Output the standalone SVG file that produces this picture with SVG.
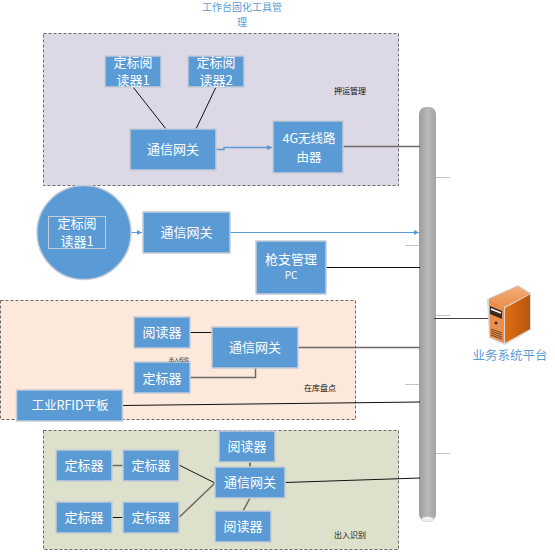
<svg xmlns="http://www.w3.org/2000/svg" width="555" height="552" viewBox="0 0 555 552">
<style>
text{font-family:"Noto Sans CJK SC","Liberation Sans",sans-serif;text-anchor:middle}
.n{fill:#5B9BD5;stroke:#C3CCD8;stroke-width:1.5}
.t{fill:#fff;font-size:13px}
.g{stroke:#6b6b6b;stroke-width:1;stroke-dasharray:3 2}
.s{font-size:8px;fill:#111}
.c{fill:none;stroke:#111;stroke-width:1}
.h{fill:none;stroke:#6f6a66;stroke-width:1.5}
.b{fill:none;stroke:#5B9BD5;stroke-width:1;marker-end:url(#a)}
.k{stroke:#c4c4c4;stroke-width:1;fill:none}
</style>
<defs>
<marker id="a" markerWidth="6" markerHeight="6" refX="5" refY="2.5" orient="auto" markerUnits="userSpaceOnUse"><path d="M0 0L5 2.5L0 5Z" fill="#5B9BD5"/></marker>
<linearGradient id="p" x1="0" x2="1" y1="0" y2="0"><stop offset="0" stop-color="#9c9c9c"/><stop offset=".5" stop-color="#b9b9b9"/><stop offset="1" stop-color="#a4a4a4"/></linearGradient>
<linearGradient id="o" x1="0" x2="1" y1="0" y2="0"><stop offset="0" stop-color="#DF6E12"/><stop offset="1" stop-color="#B9560E"/></linearGradient>
<linearGradient id="q" x1="0" x2="0" y1="0" y2="1"><stop offset="0" stop-color="#F1AE7C"/><stop offset="1" stop-color="#EC8E4C"/></linearGradient>
</defs>

<g id="title"><text font-size="10" fill="#5B9BD5"><tspan x="242" y="11">工作台固化工具管</tspan><tspan x="242" y="26">理</tspan></text></g>
<g id="zone-escort"><rect class="g" x="43.500" y="33.500" width="355" height="152" fill="#DDD8E5"/><text class="s" x="350" y="94">押运管理</text></g>
<g id="zone-stock"><rect class="g" x="0.500" y="300.500" width="355" height="119" fill="#FCE9DB"/><text class="s" x="320" y="391">在库盘点</text></g>
<g id="zone-gate"><rect class="g" x="43.500" y="430.500" width="355" height="119" fill="#DDE1CC"/><text class="s" x="350" y="538">出入识别</text></g>

<g id="bus">
<rect x="419" y="107" width="17" height="414" rx="7" fill="url(#p)"/>
<ellipse cx="427.500" cy="519" rx="6" ry="2.500" fill="#f2f2f2" stroke="#b0b0b0" stroke-width=".5"/>
</g>

<g id="connectors">
<path class="c" d="M133 87L166 129"/>
<path class="c" d="M216 87L196 129"/>
<path class="b" d="M216 149.500H224V147.500H272" style="stroke-width:1.500"/>
<path class="h" d="M343 146.500H420"/>
<path class="b" d="M131 232.500H142"/>
<path class="b" d="M230 232.500H419"/>
<path class="c" d="M326 267.500H420"/>
<path class="c" d="M190 332.500H212"/>
<path class="h" d="M190 377.500H255.500V368"/>
<path class="h" d="M298 347.500H420"/>
<path class="c" d="M122 405.500L420 402"/>
<path class="h" d="M112 465.500H123"/>
<path class="c" d="M112 517.500H123"/>
<path class="c" d="M179 465L215 483"/>
<path class="h" d="M179 517.500L215 483"/>
<path class="c" d="M250 467V462"/>
<path class="h" d="M250 498L243 511"/>
<path class="c" d="M285 482.500L420 478"/>
<path class="c" d="M434 318.500H488" style="stroke:#444"/>
<path class="k" d="M436 177.500H450M405 245.500H419M436 315.500H450M405 384.500H419M436 453.500H450"/>
</g>

<g id="reader-a"><rect class="n" x="105" y="56" width="56" height="31"/><text class="t"><tspan x="133" y="67">定标阅</tspan><tspan x="133" y="85">读器1</tspan></text></g>
<g id="reader-b"><rect class="n" x="188" y="56" width="56" height="31"/><text class="t"><tspan x="216" y="67">定标阅</tspan><tspan x="216" y="85">读器2</tspan></text></g>
<g id="gateway-a"><rect class="n" x="130" y="129" width="86" height="41"/><text class="t" x="173" y="154">通信网关</text></g>
<g id="router"><rect class="n" x="273" y="121" width="70" height="52"/><text class="t" style="font-size:12.500px"><tspan x="309" y="143">4G无线路</tspan><tspan x="309" y="161.500">由器</tspan></text></g>

<g id="circle-reader"><circle class="n" cx="84" cy="232.500" r="47"/><rect x="48.500" y="216.500" width="57" height="32" fill="none" stroke="#C3CCD8"/><text class="t"><tspan x="77" y="228">定标阅</tspan><tspan x="77" y="246">读器1</tspan></text></g>
<g id="gateway-b"><rect class="n" x="143" y="212" width="87" height="41"/><text class="t" x="186.500" y="237">通信网关</text></g>
<g id="pc"><rect class="n" x="256" y="241" width="70" height="53"/><text class="t"><tspan x="291" y="264">枪支管理</tspan><tspan x="291" y="279" style="font-size:10px">PC</tspan></text></g>

<g id="reader-c"><rect class="n" x="134" y="317" width="56" height="31"/><text class="t" x="162" y="337">阅读器</text></g>
<g id="locator-c"><rect class="n" x="134" y="362" width="56" height="31"/><text class="t" x="162" y="383">定标器</text></g>
<text x="179" y="361" font-size="5" fill="#222">出入校验</text>
<g id="gateway-c"><rect class="n" x="212" y="327" width="86" height="41"/><text class="t" x="255" y="352">通信网关</text></g>
<g id="tablet"><rect class="n" x="16.500" y="390" width="106" height="31"/><text class="t" x="70" y="410" style="font-size:12.500px">工业RFID平板</text></g>

<g id="locator-d1"><rect class="n" x="56" y="450" width="56" height="31"/><text class="t" x="84" y="470">定标器</text></g>
<g id="locator-d2"><rect class="n" x="123" y="450" width="56" height="31"/><text class="t" x="151" y="470">定标器</text></g>
<g id="locator-d3"><rect class="n" x="56" y="502" width="56" height="31"/><text class="t" x="84" y="522">定标器</text></g>
<g id="locator-d4"><rect class="n" x="123" y="502" width="56" height="31"/><text class="t" x="151" y="522">定标器</text></g>
<g id="reader-d1"><rect class="n" x="219" y="431" width="56" height="31"/><text class="t" x="247" y="451">阅读器</text></g>
<g id="gateway-d"><rect class="n" x="215" y="467" width="70" height="31"/><text class="t" x="250" y="487">通信网关</text></g>
<g id="reader-d2"><rect class="n" x="215" y="511" width="56" height="31"/><text class="t" x="243" y="531">阅读器</text></g>

<g id="server">
<path d="M487 299L518 285L531 293V330L505 345L489 338Z" fill="#d9d9d9"/>
<path d="M489 299L518 286L530 294L504 307Z" fill="url(#q)"/>
<path d="M489 299L504 307V343L490 337Z" fill="#EC8E4C"/>
<path d="M505 308L530 294.500V329L505 343Z" fill="url(#o)"/>
<path d="M490 306L502 311V319L490 314Z" fill="#3a2a20"/>
<path d="M491 309L501 313" stroke="#fff" stroke-width="1.500"/>
<circle cx="496" cy="323" r="1.500" fill="#3a2a20"/>
<path d="M491 329L502 333M491 331L502 335M491 333L502 337M491 335L502 339" stroke="#3a2a20" stroke-width=".7"/>
<text x="510" y="360" font-size="12.500" fill="#5B9BD5">业务系统平台</text>
</g>
</svg>
